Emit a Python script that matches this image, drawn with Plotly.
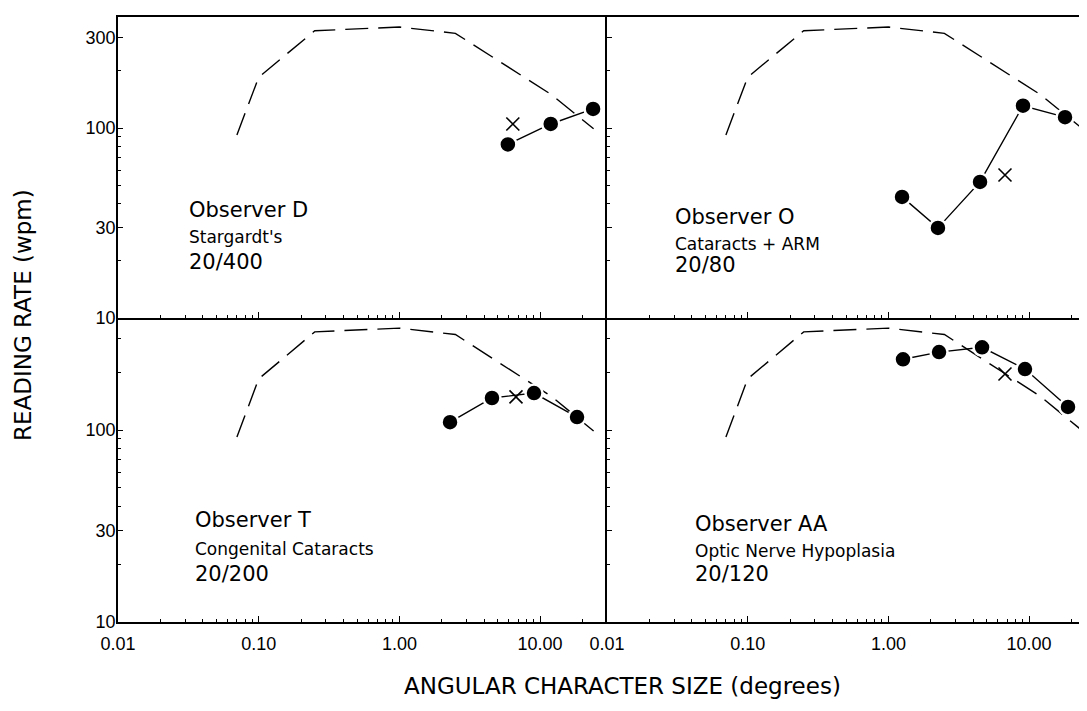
import plotly.graph_objects as go

# ---- data ----
normal_x = [0.07, 0.1, 0.25, 1.0, 2.5, 12, 24]
normal_y = [92, 185, 325, 340, 315, 150, 99]

d_x = [5.9, 11.9, 23.8]
d_y = [82, 105, 126]
d_cx, d_cy = [6.4], [105]

o_x = [1.25, 2.25, 4.48, 9.05, 18.0]
o_y = [43.4, 29.8, 52, 131, 114]
o_cx, o_cy = [6.74], [56.6]

t_x = [2.29, 4.55, 9.05, 18.3]
t_y = [110, 147, 156, 117]
t_cx, t_cy = [6.74], [149]

aa_x = [1.27, 2.29, 4.63, 9.35, 18.9]
aa_y = [234, 255, 270, 208, 132]
aa_cx, aa_cy = [6.74], [196]

x_tickvals = [0.01, 0.1, 1, 10]
x_ticktext = ["0.01", "0.10", "1.00", "10.00"]
y_tickvals_top = [10, 30, 100, 300]
y_tickvals_bot = [10, 30, 100]

panels = [
    ("x", "y", d_x, d_y, d_cx, d_cy, ["Observer D", "Stargardt's", "20/400"]),
    ("x2", "y2", o_x, o_y, o_cx, o_cy, ["Observer O", "Cataracts + ARM", "20/80"]),
    ("x3", "y3", t_x, t_y, t_cx, t_cy, ["Observer T", "Congenital Cataracts", "20/200"]),
    ("x4", "y4", aa_x, aa_y, aa_cx, aa_cy, ["Observer AA", "Optic Nerve Hypoplasia", "20/120"]),
]

# ---- geometry (page body has an 8px margin) ----
OFF = 8
W, H = 1087 - OFF, 711 - OFF
ML, MT, MB = 118 - OFF, 17 - OFF, 89
MR = 0
PW, PH = W - ML - MR, H - MT - MB
x_split = 489 / PW
y_split = 304 / PH
XMAX_L = -2 + 489 / 140.7
XMAX_R = -2 + (PW - 489) / 140.7
YMAX = 1 + 301 / 190

fig = go.Figure()

for xa, ya, px, py, cx, cy, _ in panels:
    fig.add_trace(go.Scatter(x=normal_x, y=normal_y, xaxis=xa, yaxis=ya, mode="lines",
                             line=dict(color="black", width=1.4, dash="23px,10px"),
                             showlegend=False, hoverinfo="skip"))
    fig.add_trace(go.Scatter(x=px, y=py, xaxis=xa, yaxis=ya, mode="lines+markers",
                             line=dict(color="black", width=1.4),
                             marker=dict(symbol="circle", size=17, color="black",
                                         line=dict(color="white", width=2.5)),
                             showlegend=False, cliponaxis=False))
    fig.add_trace(go.Scatter(x=cx, y=cy, xaxis=xa, yaxis=ya, mode="markers",
                             marker=dict(symbol="x-thin", size=13,
                                         line=dict(color="black", width=1.6)),
                             showlegend=False))

tickfont = dict(family="Liberation Sans", size=18, color="black")

def xaxis(domain, rng, labels, anchor, mirror):
    return dict(type="log", domain=domain, range=rng, anchor=anchor,
                showline=True, linecolor="black", linewidth=1.5, mirror=mirror,
                showgrid=False, zeroline=False,
                tickmode="array", tickvals=x_tickvals, ticktext=x_ticktext,
                showticklabels=labels, ticks="inside", ticklen=6, tickcolor="black",
                tickwidth=1, tickfont=tickfont, ticklabelstandoff=5,
                minor=dict(ticks="inside", ticklen=3, tickcolor="black", dtick="D1",
                           showgrid=False))

def yaxis(domain, vals, labels, anchor):
    return dict(type="log", domain=domain, range=[1, YMAX], anchor=anchor,
                showline=True, linecolor="black", linewidth=1.5, mirror=False,
                showgrid=False, zeroline=False,
                tickmode="array", tickvals=vals, ticktext=[str(v) for v in vals],
                showticklabels=labels, ticks="inside", ticklen=5, tickcolor="black",
                tickwidth=1, tickfont=tickfont, ticklabelstandoff=-3,
                minor=dict(ticks="inside", ticklen=3, tickcolor="black", dtick="D1",
                           showgrid=False))

fig.update_layout(
    width=W, height=H,
    margin=dict(l=ML, r=MR, t=MT, b=MB),
    paper_bgcolor="white", plot_bgcolor="white",
    xaxis=xaxis([0, x_split], [-2, XMAX_L], False, "y", True),
    yaxis=yaxis([y_split, 1], y_tickvals_top, True, "x"),
    xaxis2=xaxis([x_split, 1], [-2, XMAX_R], False, "y2", True),
    yaxis2=yaxis([y_split, 1], y_tickvals_top, False, "x2"),
    xaxis3=xaxis([0, x_split], [-2, XMAX_L], True, "y3", False),
    yaxis3=yaxis([0, y_split], y_tickvals_bot, True, "x3"),
    xaxis4=xaxis([x_split, 1], [-2, XMAX_R], True, "y4", False),
    yaxis4=yaxis([0, y_split], y_tickvals_bot, False, "x4"),
)

# ---- panel labels (target page pixels -> paper) ----
def paper_x(px):
    return (px - OFF - ML) / PW

def paper_y(py):
    return (H - MB - (py - OFF)) / PH

label_pos = [(187, [218, 243, 270]), (673, [225, 250, 273]),
             (193, [528, 555, 582]), (693, [532, 557, 582])]
sizes = [21, 17, 21]
annotations = []
for (_, _, _, _, _, _, lines), (lx, bases) in zip(panels, label_pos):
    for text, base, fs in zip(lines, bases, sizes):
        annotations.append(dict(
            x=paper_x(lx), y=paper_y(base - 0.36 * fs), xref="paper", yref="paper",
            text=text, showarrow=False, xanchor="left", yanchor="middle",
            font=dict(family="DejaVu Sans", size=fs, color="black")))

annotations.append(dict(x=paper_x(622), y=paper_y(686), xref="paper", yref="paper",
                        text="ANGULAR CHARACTER SIZE (degrees)", showarrow=False,
                        xanchor="center", yanchor="middle",
                        font=dict(family="DejaVu Sans", size=23, color="black")))
annotations.append(dict(x=paper_x(23), y=paper_y(315), xref="paper", yref="paper",
                        text="READING RATE (wpm)", showarrow=False, textangle=-90,
                        xanchor="center", yanchor="middle",
                        font=dict(family="DejaVu Sans", size=23, color="black")))
fig.update_layout(annotations=annotations)

fig.write_html("out.html")
